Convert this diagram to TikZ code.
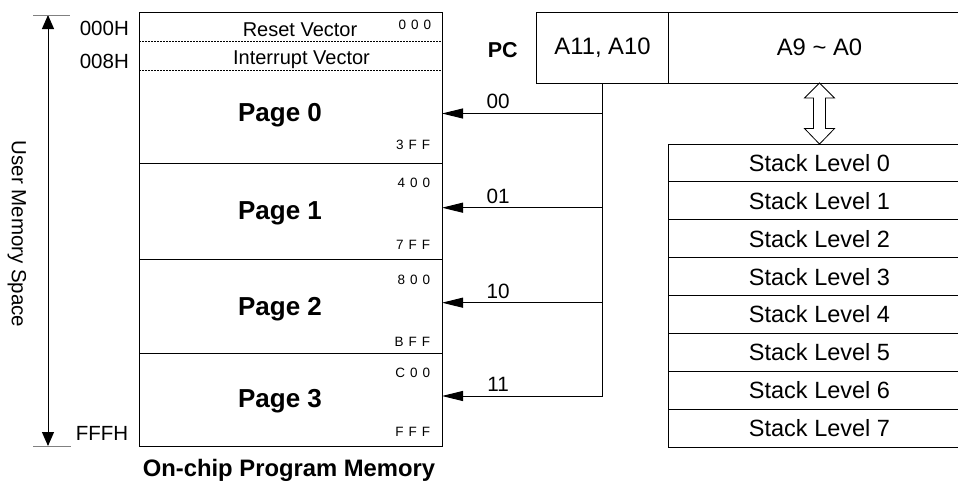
\documentclass[tikz,border=0pt]{standalone}
\usepackage{fontspec}
\setmainfont{Liberation Sans}
\usetikzlibrary{positioning, arrows.meta}

\newcommand{\fsz}[1]{\fontsize{#1}{#1}\selectfont}
\newcommand{\hexaddr}[3]{#1\hspace{5pt}#2\hspace{5pt}#3}

\begin{document}
\begin{tikzpicture}[
    x=1pt, y=-1pt, line width=1pt,
    region/.style={rectangle, minimum width=303pt, inner sep=0pt, outer sep=0pt},
    regbox/.style={rectangle, draw, minimum height=71pt, inner sep=0pt, outer sep=0pt, font=\fsz{23.8}},
    stackbox/.style={rectangle, draw, minimum width=302pt, minimum height=37.875pt, inner sep=0pt, outer sep=0pt, font=\fsz{23.5}},
    vec/.style={anchor=base, font=\fsz{20}},
    page/.style={anchor=base, font=\fsz{26}\bfseries},
    hex/.style={anchor=base east, font=\fsz{13.5}},
    addr/.style={anchor=base west, font=\fsz{20.5}},
    sel/.style={font=\fsz{20.7}},
    sep/.style={dash pattern=on 2pt off 1pt, line width=0.8pt},
    arrow/.style={-{Triangle[length=21pt, width=10pt]}},
    axis/.style={{Triangle[length=14pt, width=12pt]}-{Triangle[length=14pt, width=12pt]}},
    tick/.style={gray}
  ]
    \useasboundingbox (0,0) rectangle (958,482);
    \clip (0,0) rectangle (958,482);

    \node[region, minimum height=29pt] (rst) at (290.5,26.5) {};
    \node[region, minimum height=29pt, below=0pt of rst] (irq) {};
    \node[region, minimum height=93pt, below=0pt of irq] (page0) {};
    \node[region, minimum height=96pt, below=0pt of page0] (page1) {};
    \node[region, minimum height=94pt, below=0pt of page1] (page2) {};
    \node[region, minimum height=93pt, below=0pt of page2] (page3) {};

    \draw (rst.north west) rectangle (page3.south east);
    \draw[sep] (rst.south west) -- (rst.south east);
    \draw[sep] (irq.south west) -- (irq.south east);
    \draw (page0.south west) -- (page0.south east);
    \draw (page1.south west) -- (page1.south east);
    \draw (page2.south west) -- (page2.south east);

    \node[vec] (rsttxt) at (300,36) {Reset Vector};
    \node[vec] (irqtxt) at (301.5,64.5) {Interrupt Vector};
    \node[page] (p0txt) at (280,121) {Page 0};
    \node[page] (p1txt) at (280,219.3) {Page 1};
    \node[page] (p2txt) at (280,315) {Page 2};
    \node[page] (p3txt) at (280,407.3) {Page 3};

    \node[hex] (h000) at (435,29) {\hexaddr 000};
    \node[hex] (h3ff) at (434,149) {\hexaddr 3FF};
    \node[hex] (h400) at (434,187) {\hexaddr 400};
    \node[hex] (h7ff) at (434,249.3) {\hexaddr 7FF};
    \node[hex] (h800) at (434,284) {\hexaddr 800};
    \node[hex] (hbff) at (434,346) {\hexaddr BFF};
    \node[hex] (hc00) at (434,377.3) {\hexaddr C00};
    \node[hex] (hfff) at (434,436.7) {\hexaddr FFF};

    \node[addr] (a000) at (76,35) {000H};
    \node[addr] (a008) at (76,68) {008H};
    \node[addr] (afff) at (72,440) {FFFH};
    \node[anchor=base, font=\fsz{23.8}\bfseries] (title) at (289,476) {On-chip Program Memory};

    \coordinate (atop) at (48,15);
    \coordinate (abot) at (48,446);
    \draw[axis] (atop) -- (abot);
    \draw[tick] ([xshift=-15pt]atop) -- ([xshift=22pt]atop);
    \draw[tick] ([xshift=-15pt]abot) -- ([xshift=23pt]abot);
    \node[rotate=-90, font=\fsz{20.5}] (ums) at (17,234) {User Memory Space};

    \node[anchor=base west, font=\fsz{21.5}\bfseries] (pc) at (484,57.3) {PC};
    \node[regbox, minimum width=132pt] (a11) at (602.5,47.5) {A11, A10};
    \node[regbox, minimum width=302pt, right=0pt of a11] (a9) {A9 \textasciitilde{} A0};

    \node[stackbox] (st0) at (819.5,163) {Stack Level 0};
    \node[stackbox, below=0pt of st0] (st1) {Stack Level 1};
    \node[stackbox, below=0pt of st1] (st2) {Stack Level 2};
    \node[stackbox, below=0pt of st2] (st3) {Stack Level 3};
    \node[stackbox, below=0pt of st3] (st4) {Stack Level 4};
    \node[stackbox, below=0pt of st4] (st5) {Stack Level 5};
    \node[stackbox, below=0pt of st5] (st6) {Stack Level 6};
    \node[stackbox, below=0pt of st6] (st7) {Stack Level 7};

    \draw[line width=0.8pt] (a9.south) -- ++(-15,15) -- ++(9,0) -- ++(0,30.5) -- ++(-9,0)
      -- (st0.north) -- ++(15,-15.5) -- ++(-9,0) -- ++(0,-30.5) -- ++(9,0) -- cycle;

    \coordinate (b0) at (602.5,113.5);
    \coordinate (b1) at (602.5,207.7);
    \coordinate (b2) at (602.5,302.7);
    \coordinate (b3) at (602.5,396);
    \draw (a11.south) -- (b3);
    \draw[arrow] (b0) -- node[sel, pos=0.65, above=0.6pt]{00} (b0 -| page0.east);
    \draw[arrow] (b1) -- node[sel, pos=0.65, above=0.6pt]{01} (b1 -| page1.east);
    \draw[arrow] (b2) -- node[sel, pos=0.65, above=0.6pt]{10} (b2 -| page2.east);
    \draw[arrow] (b3) -- node[sel, pos=0.65, above=0.6pt]{11} (b3 -| page3.east);
  \end{tikzpicture}
\end{document}
